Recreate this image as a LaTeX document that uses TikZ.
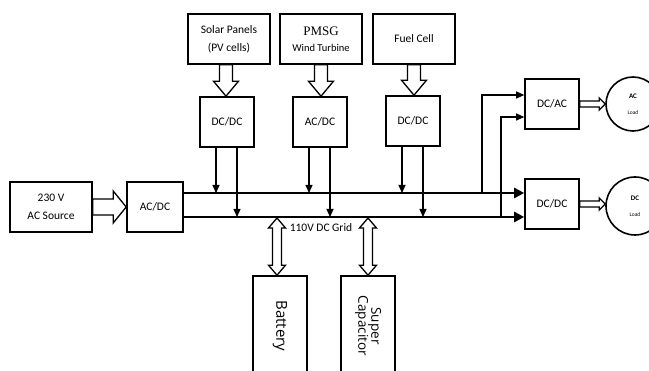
\documentclass[tikz,border=0pt]{standalone}
\usepackage{fontspec}
\setmainfont{Carlito}
\newfontfamily\serifFont{Liberation Serif}
\newfontfamily\storeFont{Open Sans}
\usetikzlibrary{arrows.meta,calc}
\tikzstyle{diagram} = [x=1pt, y=-1pt, font=\fontsize{11.5}{18}\selectfont]
\tikzstyle{blockStyle} = [draw, line width=1.6pt, align=center, inner sep=0pt]
\tikzstyle{loadStyle} = [draw, circle, line width=1.6pt, align=center, inner sep=0pt]
\tikzstyle{feedLine} = [line width=1.1pt, -{Triangle[length=8pt,width=7pt]}]
\tikzstyle{busLine} = [line width=2.8pt, -{Triangle[length=10pt,width=10pt]}]
\tikzstyle{hollowStyle} = [draw, line width=1.3pt, fill=white, line join=miter]
\tikzstyle{storeText} = [font=\storeFont\fontsize{13.5}{16}\selectfont]
\newcommand{\hollowArrowDown}[5]{\path [hollowStyle] let \p1=(#1), \p2=(#2) in (\x1-#3,\y1) -- (\x1-#3,\y2+#5) -- (\x1-#4,\y2+#5) -- (\x1,\y2) -- (\x1+#4,\y2+#5) -- (\x1+#3,\y2+#5) -- (\x1+#3,\y1) -- cycle;}
\newcommand{\hollowArrowRight}[5]{\path [hollowStyle] let \p1=(#1), \p2=(#2) in (\x1,\y1-#3) -- (\x2-#5,\y1-#3) -- (\x2-#5,\y1-#4) -- (\x2,\y1) -- (\x2-#5,\y1+#4) -- (\x2-#5,\y1+#3) -- (\x1,\y1+#3) -- cycle;}
\newcommand{\hollowArrowBoth}[5]{\path [hollowStyle] let \p1=(#1), \p2=(#2) in (\x1,\y1) -- (\x1+#4,\y1-#5) -- (\x1+#3,\y1-#5) -- (\x1+#3,\y2+#5) -- (\x1+#4,\y2+#5) -- (\x1,\y2) -- (\x1-#4,\y2+#5) -- (\x1-#3,\y2+#5) -- (\x1-#3,\y1-#5) -- (\x1-#4,\y1-#5) -- cycle;}
\newcommand{\loadText}[1]{{\fontsize{7}{8}\selectfont\bfseries #1}\\[-2pt]{\fontsize{5.5}{6}\selectfont Load}}

\begin{document}
\begin{tikzpicture}[diagram]
\useasboundingbox (0,0) rectangle (649,371);
\clip (0,0) rectangle (649,371);
\node [blockStyle, minimum width=82pt, minimum height=50pt] (solar) at (229,39) {Solar Panels\\(PV cells)};
\node [blockStyle, minimum width=82pt, minimum height=50pt] (pmsg) at (321,39) {{\serifFont\fontsize{13}{14}\selectfont PMSG}\\[-2pt]{\fontsize{10.5}{12}\selectfont Wind Turbine}};
\node [blockStyle, minimum width=82pt, minimum height=50pt] (fuel) at (414,39) {Fuel Cell};
\node [blockStyle, minimum width=54pt, minimum height=50pt] (dcdcSolar) at (227,122) {DC/DC};
\node [blockStyle, minimum width=54pt, minimum height=50pt] (acdcWind) at (320,122) {AC/DC};
\node [blockStyle, minimum width=54pt, minimum height=50pt] (dcdcFuel) at (413,121) {DC/DC};
\node [blockStyle, minimum width=82pt, minimum height=50pt] (acSource) at (51,207) {230 V\\AC Source};
\node [blockStyle, minimum width=56pt, minimum height=50pt] (acdcGrid) at (155,207) {AC/DC};
\node [blockStyle, minimum width=54pt, minimum height=50pt] (dcac) at (552,104) {DC/AC};
\node [blockStyle, minimum width=54pt, minimum height=50pt] (dcdcLoad) at (552,204) {DC/DC};
\node [loadStyle, minimum size=54pt] (acLoad) at (633,104) {\loadText{AC}};
\node [loadStyle, minimum size=58pt] (dcLoad) at (635,206) {\loadText{DC}};
\node [blockStyle, storeText, minimum width=54pt, minimum height=100pt] (battery) at (280,326) {\fontsize{15}{18}\selectfont\rotatebox{-90}{Battery}};
\node [blockStyle, storeText, minimum width=54pt, minimum height=100pt] (superCap) at (368,326) {\rotatebox{-90}{\begin{tabular}{@{}c@{}}Super\\[-3pt]Capacitor\end{tabular}}};
\node (gridLabel) at (321,228) {\fontsize{11.5}{13}\selectfont 110V DC Grid};
\coordinate (busTop) at (acdcGrid.east |- 0,193);
\coordinate (busBottom) at (acdcGrid.east |- 0,217);
\coordinate (tapTop) at (482,193);
\coordinate (tapBottom) at (501,217);
\draw [busLine] (busTop) -- (dcdcLoad.west |- busTop);
\draw [busLine] (busBottom) -- (dcdcLoad.west |- busBottom);
\foreach \conv in {dcdcSolar, acdcWind, dcdcFuel} {
  \draw [feedLine] ([xshift=-11pt]\conv.south) -- ([xshift=-11pt]\conv.south |- busTop);
  \draw [feedLine] ([xshift=10pt]\conv.south) -- ([xshift=10pt]\conv.south |- busBottom);
}
\draw [feedLine] (tapTop) |- ([yshift=9pt]dcac.west);
\draw [feedLine] (tapBottom) |- ([yshift=-13pt]dcac.west);
\hollowArrowDown{[xshift=-3pt]solar.south}{[xshift=-1pt]dcdcSolar.north}{6.5pt}{12.5pt}{15pt}
\hollowArrowDown{pmsg.south}{acdcWind.north}{6.5pt}{12.5pt}{15pt}
\hollowArrowDown{fuel.south}{dcdcFuel.north}{6.5pt}{12.5pt}{15pt}
\hollowArrowRight{acSource.east}{acdcGrid.west}{8pt}{16pt}{13pt}
\hollowArrowRight{dcac.east}{acLoad.west}{3pt}{6pt}{6pt}
\hollowArrowRight{dcdcLoad.east}{dcLoad.west}{3pt}{6pt}{6pt}
\hollowArrowBoth{[xshift=-3pt]battery.north |- 0,218}{[xshift=-3pt]battery.north}{4.5pt}{8.5pt}{10pt}
\hollowArrowBoth{superCap.north |- 0,218}{superCap.north}{4.5pt}{8.5pt}{10pt}
\end{tikzpicture}
\end{document}
